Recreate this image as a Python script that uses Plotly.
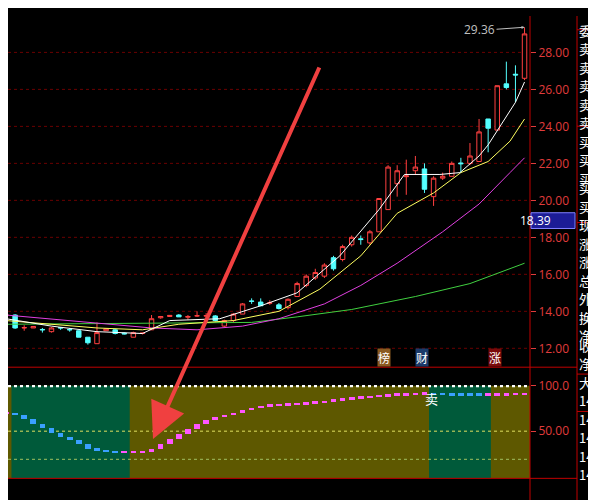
import plotly.graph_objects as go

# candles (index 0..57)
opens = [13.8, 13.8, 13.1, 13.1, 13.02, 12.9, 13.12, 13.02, 12.95, 12.6,
         12.25, 12.95, 13.0, 12.82, 12.6, 12.8, 13.0, 13.65, 13.72, 13.8,
         13.68, 13.75, 13.75, 13.75, 13.2, 13.5, 13.85, 14.56, 14.5, 14.44,
         14.35, 14.2, 14.8, 15.4, 15.8, 15.9, 16.9, 16.8, 17.6, 17.92,
         17.7, 18.3, 19.5, 20.9, 21.28, 21.6, 21.7, 20.2, 21.2, 21.3,
         22.02, 22.0, 22.1, 24.4, 23.8, 26.3, 26.82, 26.6]
highs = [13.9, 13.85, 13.25, 13.2, 13.1, 13.15, 13.15, 13.1, 12.95, 12.6,
         13.4, 13.05, 13.05, 12.85, 12.9, 12.85, 13.8, 13.75, 13.8, 13.85,
         13.8, 14.0, 13.9, 13.8, 13.55, 13.9, 14.45, 14.7, 14.7, 14.6,
         14.45, 14.7, 15.6, 16.0, 16.3, 16.6, 17.0, 17.6, 18.1, 18.1,
         18.4, 20.1, 21.9, 21.9, 22.2, 22.4, 22.0, 21.3, 21.5, 22.1,
         22.3, 23.1, 24.4, 24.4, 26.2, 27.5, 27.3, 29.36]
lows = [13.7, 13.05, 12.95, 13.1, 12.85, 12.85, 13.0, 12.9, 12.6, 12.2,
        12.25, 12.95, 12.75, 12.75, 12.6, 12.75, 13.0, 13.6, 13.7, 13.7,
        13.55, 13.7, 13.7, 13.45, 13.15, 13.4, 13.85, 14.4, 14.3, 14.35,
        14.1, 14.1, 14.8, 15.3, 15.7, 15.8, 16.2, 16.7, 17.5, 17.6,
        17.6, 18.3, 19.5, 20.2, 20.3, 21.4, 20.4, 19.7, 21.1, 21.3,
        21.5, 21.9, 22.1, 22.6, 23.8, 26.0, 25.3, 26.5]
closes = [13.8, 13.1, 13.12, 13.18, 13.0, 13.1, 13.1, 13.0, 12.6, 12.3,
          12.85, 13.05, 12.8, 12.78, 12.85, 12.82, 13.6, 13.72, 13.78, 13.7,
          13.72, 13.76, 13.76, 13.5, 13.5, 13.85, 14.4, 14.54, 14.3, 14.46,
          14.15, 14.65, 15.5, 15.9, 16.1, 16.5, 16.3, 17.5, 18.0, 17.88,
          18.3, 20.1, 21.8, 21.6, 21.32, 21.8, 20.6, 21.2, 21.3, 22.0,
          21.98, 22.4, 23.7, 23.9, 26.2, 26.1, 26.78, 29.0]

# moving averages (index, value)
ma5_x = [0, 5, 10, 15, 18, 23.5, 28, 32, 36.7, 41, 43.8, 47.7, 49.9, 52, 53, 56, 57]
ma5_y = [13.6, 13.2, 12.9, 12.8, 13.5, 13.6, 14.3, 15.0, 17.0, 19.5, 21.4, 21.4, 21.5, 22.4, 23.0, 25.3, 26.4]
ma10_x = [0, 10, 15, 19, 25, 30, 34.5, 39, 43, 47, 50, 53, 55.4, 57]
ma10_y = [13.5, 13.1, 13.0, 13.3, 13.5, 14.0, 15.2, 17.0, 19.3, 20.4, 21.5, 22.1, 23.2, 24.4]
ma20_x = [0, 7, 16, 21, 26, 30, 35, 39, 43, 48, 52, 55.4, 57]
ma20_y = [13.8, 13.5, 13.1, 13.0, 13.2, 13.6, 14.4, 15.4, 16.6, 18.3, 19.8, 21.5, 22.3]
ma60_x = [0, 21, 27, 32, 38, 45, 51, 57]
ma60_y = [13.3, 13.35, 13.4, 13.7, 14.1, 14.8, 15.5, 16.6]

# indicator
ind = [70, 68, 63, 58, 54, 48, 44, 40, 36, 31, 29, 27.5, 27, 27, 27, 27.5, 30, 36, 41, 47,
       52, 58, 62, 66, 68, 70, 73, 76, 78, 78.5, 79, 80, 80.5, 81, 82, 83, 84.5, 85.5, 86.5, 87.5,
       88.3, 89, 90, 90.5, 91, 91.5, 91.5, 91, 90.8, 90.6, 90.5, 90.4, 90.3, 90.5, 90.7, 90.8, 90.9, 91]
green_zones = [(0.6, 13.6), (46.5, 53.3)]

price_ticks = [12, 14, 16, 18, 20, 22, 24, 26, 28]
side_labels = ["委", "卖", "卖", "卖", "卖", "卖", "买", "买", "买", "买", "买", "现",
               "涨", "涨", "总", "外", "换", "净", "收", "净", "大", "14", "14", "14", "14", "14"]

n = len(closes)
idx = list(range(n))
RED = "#e03c3c"
# the page body adds an 8px margin, so the figure is drawn 8px in and sized to fit
OX, OY = 8, 8
W, H = 596 - OX, 500 - OY


def px(x):
    return (x - OX) / W


def py(y):
    return 1 - (y - OY) / H


X0 = (OX - 6) / 9.1
XR = [X0, 57.6]

fig = go.Figure()
fig.add_trace(go.Candlestick(
    x=idx, open=opens, high=highs, low=lows, close=closes,
    increasing=dict(line=dict(color="#ff4040", width=1), fillcolor="black"),
    decreasing=dict(line=dict(color="#54ffff", width=1), fillcolor="#54ffff"),
    whiskerwidth=0, xaxis="x", yaxis="y", showlegend=False))
for xs, ys, c in [(ma60_x, ma60_y, "#40d040"), (ma20_x, ma20_y, "#e040e0"),
                  (ma10_x, ma10_y, "#ffff60"), (ma5_x, ma5_y, "#ffffff")]:
    fig.add_trace(go.Scatter(x=xs, y=ys, mode="lines", line=dict(color=c, width=1),
                             xaxis="x", yaxis="y", showlegend=False))

# indicator bars from previous value to current
prev = [ind[0]] + ind[:-1]
bases, heights, cols = [], [], []
for p, v in zip(prev, ind):
    d = abs(v - p)
    h = max(d, 2.8)
    bases.append(min(p, v) - (h - d) / 2)
    heights.append(h)
    cols.append("#3aa0ff" if v < p else "#ff55ff")
fig.add_trace(go.Bar(x=idx, y=heights, base=bases, marker=dict(color=cols, line=dict(width=0)),
                     width=0.62, xaxis="x2", yaxis="y2", showlegend=False))

shapes = []
shapes.append(dict(type="rect", xref="x2", yref="y2", x0=XR[0], x1=XR[1], y0=-2, y1=100,
                   fillcolor="#5e5800", line_width=0, layer="below"))
for a, b in green_zones:
    shapes.append(dict(type="rect", xref="x2", yref="y2", x0=a, x1=b, y0=-2, y1=100,
                       fillcolor="#005a3a", line_width=0, layer="below"))
for lv, c, w in [(100, "#ffffff", 3), (50, "#e0e060", 1), (19, "#a0c060", 1)]:
    shapes.append(dict(type="line", xref="x2", yref="y2", x0=XR[0], x1=XR[1], y0=lv, y1=lv,
                       line=dict(color=c, width=w, dash="dot"), layer="below"))
for t in price_ticks:
    shapes.append(dict(type="line", xref="x", yref="y", x0=XR[0], x1=XR[1], y0=t, y1=t,
                       line=dict(color="#6a0000", width=1, dash="dot"), layer="below"))
for yp in [365, 478]:
    shapes.append(dict(type="line", xref="paper", yref="paper", x0=0, x1=px(577),
                       y0=py(yp), y1=py(yp), line=dict(color="#c00000", width=1)))
for xp in [530, 577]:
    shapes.append(dict(type="line", xref="paper", yref="paper", x0=px(xp), x1=px(xp),
                       y0=0, y1=1, line=dict(color="#c00000", width=1)))
for yp in [22, 120, 218, 372, 410]:
    shapes.append(dict(type="line", xref="paper", yref="paper", x0=px(577), x1=1,
                       y0=py(yp), y1=py(yp), line=dict(color="#c00000", width=1)))
shapes.append(dict(type="rect", xref="paper", yref="paper", x0=px(531), x1=px(575),
                   y0=py(224), y1=py(208), fillcolor="#1c1c96",
                   line=dict(color="#8080ff", width=1)))

ann = []
ann.append(dict(xref="paper", yref="paper", x=px(553), y=py(216), text="18.39",
                showarrow=False, font=dict(color="white", size=12)))
ann.append(dict(xref="x", yref="y", x=57, y=29.36, ax=-28, ay=2, text="29.36",
                showarrow=True, arrowhead=2, arrowsize=0.6, arrowcolor="#c0c0c0",
                xanchor="right", font=dict(color="#c0c0c0", size=12)))
for i, t in enumerate(side_labels):
    ann.append(dict(xref="paper", yref="paper", x=px(578), y=py(13 + 18.8 * i), text=t,
                    xanchor="left", showarrow=False, borderpad=0, height=16,
                    font=dict(color="white", size=13, family="Noto Sans CJK SC")))
for xi, t, bg in [(41.5, "榜", "#8a5a20"), (45.7, "财", "#1a3a6a"), (53.8, "涨", "#7a0a0a")]:
    ann.append(dict(xref="x", yref="y", x=xi, y=11.5, text=t, showarrow=False, bgcolor=bg,
                    borderpad=0, font=dict(color="white", size=12, family="Noto Sans CJK SC")))
ann.append(dict(xref="x2", yref="y2", x=46.8, y=86, text="卖", showarrow=False,
                font=dict(color="white", size=13, family="Noto Sans CJK SC")))
# red arrow
ann.append(dict(xref="paper", yref="paper", x=px(153), y=py(438),
                ax=167, ay=-373, axref="pixel", ayref="pixel", text="", showarrow=True,
                arrowhead=2, arrowsize=1.8, arrowwidth=4, arrowcolor="#f04040"))

fig.update_layout(
    width=W, height=H, margin=dict(l=0, r=0, t=0, b=0),
    paper_bgcolor="black", plot_bgcolor="black",
    shapes=shapes, annotations=ann, bargap=0,
    xaxis=dict(domain=[0, px(530)], range=XR, visible=False, rangeslider=dict(visible=False)),
    xaxis2=dict(domain=[0, px(530)], range=XR, visible=False, anchor="y2"),
    yaxis=dict(domain=[py(365), 1], range=[28 - (365 - 45) / 18.8, 28 + (45 - OY) / 18.8],
               side="right", tickvals=price_ticks,
               tickformat=".2f", showgrid=False, zeroline=False, ticks="outside", ticklen=5,
               tickcolor=RED, tickfont=dict(color=RED, size=12), anchor="x"),
    yaxis2=dict(domain=[py(478), py(383)], range=[-2, 101], side="right",
                tickvals=[50, 100], ticktext=["50.00", "100.0"], showgrid=False, zeroline=False,
                ticks="outside", ticklen=5, tickcolor=RED, tickfont=dict(color=RED, size=12), anchor="x2"),
)
fig.write_html("out.html")
